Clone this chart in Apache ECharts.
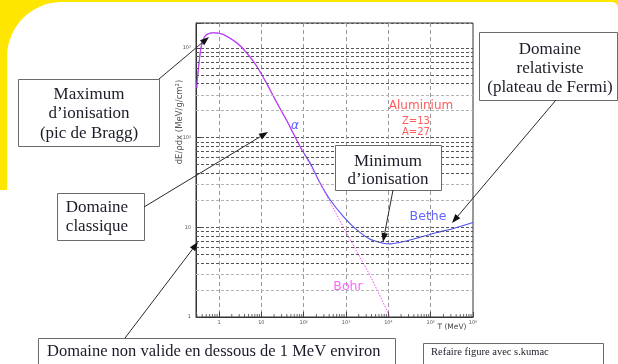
<!DOCTYPE html>
<html>
<head>
<meta charset="utf-8">
<script src="https://cdn.jsdelivr.net/npm/echarts@6.0.0/dist/echarts.min.js"></script>
<style>
  html, body { margin: 0; padding: 0; background: #fff; }
  #chart { width: 618px; height: 364px; }
</style>
</head>
<body>
<div id="chart"></div>
<script>
// Stopping power of alpha particles in aluminium, dE/ρdx (MeV cm²/g) vs kinetic energy T (MeV)
const betheT = [0.297, 0.324, 0.369, 0.425, 0.512, 0.733, 1.06, 1.52, 2.62, 4.52, 7.78, 13.4, 23.1, 39.8, 57.1, 90.2,
                142, 244, 421, 869, 1800, 3715, 7660, 11030, 22750, 56450, 140200, 346000, 1000000];
const betheS = [359, 575, 962, 1245, 1415, 1479, 1452, 1355, 1143, 883, 626, 401, 246, 155, 111, 73.5,
                52.2, 31.2, 20.3, 13.2, 9.38, 7.38, 6.66, 6.54, 6.94, 7.78, 8.75, 9.70, 11.3];

// Classical (Bohr) formula: follows the same curve at low energy, then falls as ~1/T
const bohrT = [0.297, 0.324, 0.369, 0.425, 0.512, 0.733, 1.06, 1.52, 2.62, 4.52, 7.78, 13.4, 23.1, 39.8, 57.1, 90.2,
               142, 869, 3715, 11000];
const bohrS = [359, 575, 962, 1245, 1415, 1479, 1452, 1355, 1143, 883, 626, 401, 246, 155, 111, 73.5,
               50, 10.0, 2.9, 1.0];
const bohrSplitT = 90.2;   // above this energy the Bohr curve is drawn dotted

// Axis ranges and decade tick labels
const xRange = [0.286, 1000000];
const yRange = [1, 1900];
const decadeExp  = [0, 1, 2, 3, 4, 5, 6];
const decadeText = ['1', '10', '10²', '10³', '10⁴', '10⁵', '10⁶'];
const minorFactors = [2, 3, 4, 5, 6, 7, 8, 9];
const yDecades = [1, 10, 100, 1000];
const xDecades = [0.1, 1, 10, 100, 1000, 10000, 100000];

function decadeLabel(v) {
  const l = Math.log10(v);
  const e = Math.round(l);
  if (Math.abs(l - e) > 1e-6) return '';
  const i = decadeExp.indexOf(e);
  return i < 0 ? '' : decadeText[i];
}

const pairs = (xs, ys) => xs.map((x, i) => [x, ys[i]]);
const bohrAll = pairs(bohrT, bohrS);

// log-spaced grid lines / ticks between the decades
const yMinorLight = [], yMinorDark = [];
yDecades.forEach(d => minorFactors.forEach(k => {
  const v = d * k;
  if (v > yRange[1]) return;
  (k <= 3 ? yMinorLight : yMinorDark).push({ yAxis: v });
}));
const xMinorTicks = [];
xDecades.forEach(d => minorFactors.forEach(k => {
  const v = d * k;
  if (v > xRange[0] && v < xRange[1]) xMinorTicks.push([v, yRange[0]]);
}));

// ---- annotation helpers ----
const SERIF = '"Liberation Serif", "Times New Roman", serif';
function box(x, y, w, h, lines, tx, ty, size, align, lh) {
  return [
    { type: 'rect', z: 100, shape: { x: x + 0.5, y: y + 0.5, width: w, height: h },
      style: { fill: '#fff', stroke: '#6b6b6b', lineWidth: 1 } },
    { type: 'text', z: 101, x: tx, y: ty,
      style: { text: lines.join('\n'), fontSize: size, fontFamily: SERIF, fill: '#1c1c28',
               align: align, verticalAlign: 'middle', lineHeight: lh } }
  ];
}
function arrow(x1, y1, x2, y2) {
  const a = Math.atan2(y2 - y1, x2 - x1), L = 9, W = 3.3;
  const bx = x2 - L * Math.cos(a), by = y2 - L * Math.sin(a);
  const px = -Math.sin(a) * W, py = Math.cos(a) * W;
  return [
    { type: 'line', z: 102, shape: { x1: x1, y1: y1, x2: bx, y2: by },
      style: { stroke: '#2a2a2a', lineWidth: 1 } },
    { type: 'polygon', z: 102, shape: { points: [[x2, y2], [bx + px, by + py], [bx - px, by - py]] },
      style: { fill: '#111' } }
  ];
}
function label(text, x, y, size, color, extra) {
  return { type: 'text', z: 50, x: x, y: y,
    style: Object.assign({ text: text, fontSize: size, fontFamily: '"DejaVu Sans", sans-serif',
      fill: color, align: 'center', verticalAlign: 'middle' }, extra || {}) };
}

const graphics = [
  // slide background: yellow band with a rounded white panel
  { type: 'rect', z: -10, shape: { x: 0, y: 0, width: 618, height: 190 }, style: { fill: '#FFE600' } },
  { type: 'rect', z: -9, shape: { x: 7, y: 2, width: 611, height: 370, r: [55, 6, 0, 0] }, style: { fill: '#fff' } },

  // text inside the plot
  label('Aluminium', 421, 106, 12, '#ff5c5c'),
  label('Z=13', 416, 121, 10, '#ff5c5c'),
  label('A=27', 416, 132, 10, '#ff5c5c'),
  label('α', 295, 126, 12, '#5a5aff', { fontStyle: 'italic' }),
  label('Bethe', 428, 217, 12.5, '#6464ff'),
  label('Bohr', 348, 287, 12.5, '#ff66ff'),
  label('T (MeV)', 452, 327, 7.5, '#444'),
  { type: 'text', z: 50, x: 180, y: 122, rotation: Math.PI / 2,
    style: { text: 'dE/ρdx (MeV/g/cm²)', fontSize: 8.5, fontFamily: '"DejaVu Sans", sans-serif',
             fill: '#555', align: 'center', verticalAlign: 'middle' } }
].concat(
  box(18, 79, 141, 67, ['Maximum', 'd’ionisation', '(pic de Bragg)'], 89, 114, 17, 'center', 19.5),
  arrow(159, 79, 209, 37),
  box(57, 193, 87, 47, ['Domaine', 'classique'], 97, 217.5, 17, 'center', 19),
  arrow(144, 207, 268, 132),
  box(38, 338, 357, 40, ['Domaine non valide en dessous de 1 MeV environ'], 47, 352, 16.5, 'left', 18),
  arrow(125, 338, 198, 242),
  box(335, 145, 106, 45, ['Minimum', 'd’ionisation'], 388, 170.5, 17, 'center', 18),
  arrow(393, 190, 383, 242),
  box(479, 32, 138, 68, ['Domaine', 'relativiste', '(plateau de Fermi)'], 550, 69, 17, 'center', 19),
  arrow(556, 100, 452, 223),
  box(423, 343, 180, 40, ['Refaire figure avec s.kumac'], 431, 352, 10.5, 'left', 12)
);

const chart = echarts.init(document.getElementById('chart'), null, { renderer: 'canvas' });
chart.setOption({
  animation: false,
  backgroundColor: 'transparent',
  grid: { left: 196, right: 145, top: 23, bottom: 47, show: true,
          borderColor: '#333', borderWidth: 1, backgroundColor: 'transparent' },
  xAxis: {
    type: 'log', logBase: 10, min: xRange[0], max: xRange[1],
    axisLine: { lineStyle: { color: '#333', width: 1 } },
    axisTick: { inside: true, length: 5, lineStyle: { color: '#444' } },
    axisLabel: { fontSize: 5, color: '#555', margin: 3, formatter: decadeLabel,
                 fontFamily: '"DejaVu Sans", sans-serif' },
    splitLine: { show: true, lineStyle: { color: '#9a9a9a', type: [4, 3], width: 1 } },
    minorTick: { show: false }
  },
  yAxis: {
    type: 'log', logBase: 10, min: yRange[0], max: yRange[1],
    axisLine: { lineStyle: { color: '#333', width: 1 } },
    axisTick: { inside: true, length: 5, lineStyle: { color: '#444' } },
    axisLabel: { fontSize: 5, color: '#555', margin: 5, formatter: decadeLabel,
                 fontFamily: '"DejaVu Sans", sans-serif' },
    splitLine: { show: true, lineStyle: { color: '#555', type: [3, 2], width: 1 } }
  },
  series: [
    {
      // minor grid lines and minor x ticks
      type: 'scatter', z: 1, silent: true,
      data: xMinorTicks, symbol: 'rect', symbolSize: [1, 3], symbolOffset: [0, -1.5],
      itemStyle: { color: '#444' },
      markLine: {
        silent: true, symbol: 'none', label: { show: false }, animation: false,
        data: yMinorDark.map(d => Object.assign({ lineStyle: { color: '#555', type: [3, 2], width: 1 } }, d))
          .concat(yMinorLight.map(d => Object.assign({ lineStyle: { color: '#b4b4b4', type: [3, 2], width: 1 } }, d)))
      }
    },
    {
      name: 'Bethe', type: 'line', z: 3, showSymbol: false, smooth: 0.25,
      data: pairs(betheT, betheS),
      lineStyle: { color: '#4f4ff5', width: 1.1 }
    },
    {
      name: 'Bohr', type: 'line', z: 4, showSymbol: false, smooth: 0.25,
      data: bohrAll.filter(p => p[0] <= bohrSplitT),
      lineStyle: { color: '#ff30ff', width: 1.1, opacity: 0.75 }
    },
    {
      name: 'Bohr', type: 'line', z: 4, showSymbol: false,
      data: bohrAll.filter(p => p[0] >= bohrSplitT),
      lineStyle: { color: '#ff44ff', width: 1, type: [1.5, 1.5] }
    }
  ],
  graphic: graphics
});
</script>
</body>
</html>
